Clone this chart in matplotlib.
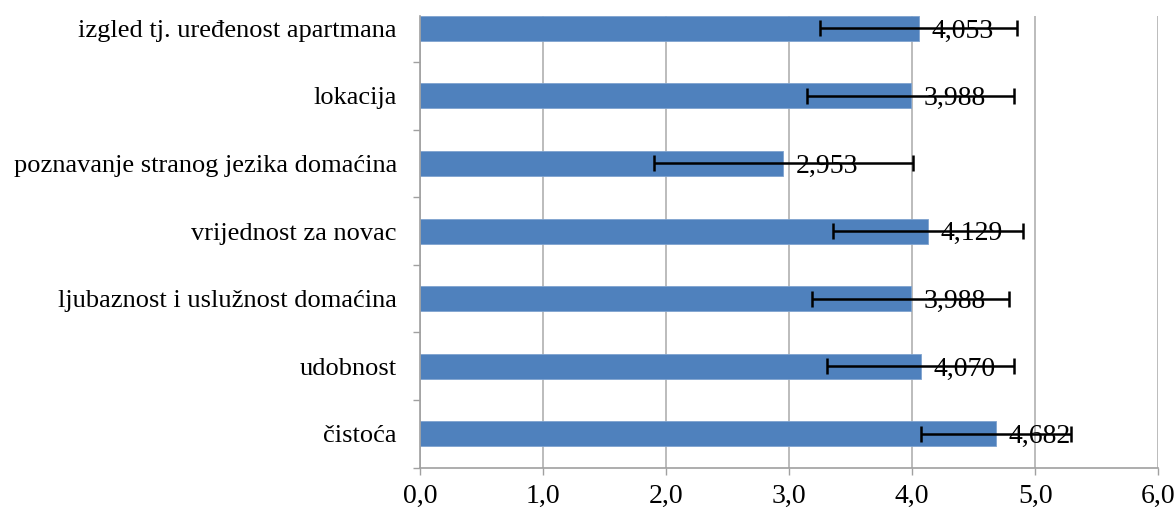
import matplotlib
matplotlib.use("Agg")
import matplotlib.pyplot as plt
from matplotlib.ticker import FuncFormatter, FixedLocator

categories = ["čistoća", "udobnost", "ljubaznost i uslužnost domaćina",
              "vrijednost za novac", "poznavanje stranog jezika domaćina",
              "lokacija", "izgled tj. uređenost apartmana"]
values = [4.682, 4.070, 3.988, 4.129, 2.953, 3.988, 4.053]
errors = [0.61, 0.76, 0.80, 0.77, 1.05, 0.84, 0.80]
value_labels = ["4,682", "4,070", "3,988", "4,129", "2,953", "3,988", "4,053"]
x_ticks = [0, 1, 2, 3, 4, 5, 6]

plt.rcParams['font.family'] = ['Liberation Serif', 'DejaVu Serif']

fig = plt.figure(figsize=(11.76, 5.11), dpi=100)
ax = fig.add_axes([0.357, 0.085, 0.628, 0.884])

ypos = list(range(len(categories)))
ax.barh(ypos, values, height=0.37, color="#4F81BD", edgecolor="#7FA3CF",
        linewidth=0.6, zorder=2)
ax.errorbar(values, ypos, xerr=errors, fmt="none", ecolor="black",
            elinewidth=1.8, capsize=5.5, capthick=1.8, zorder=3)
for v, y, lab in zip(values, ypos, value_labels):
    ax.annotate(lab, xy=(v, y), xytext=(9, -2), textcoords="offset points",
                ha="left", va="center", fontsize=20, color="black", zorder=4)

ax.set_xlim(0, 6)
ax.set_ylim(-0.5, 6.185)
ax.set_xticks(x_ticks)
ax.xaxis.set_major_formatter(FuncFormatter(lambda v, p: f"{v:.1f}".replace(".", ",")))
ax.set_yticks(ypos)
ax.set_yticklabels(categories)
ax.yaxis.set_minor_locator(FixedLocator([y + 0.5 for y in ypos[:-1]] + [-0.5]))
ax.tick_params(axis="y", which="major", length=0, pad=16.5, labelsize=19)
ax.tick_params(axis="y", which="minor", length=5, color="#A0A0A0", width=1)
ax.tick_params(axis="x", length=5, color="#A0A0A0", width=1, labelsize=20, pad=7)

ax.grid(axis="x", color="#B0B0B0", linewidth=1.2, zorder=0)
ax.set_axisbelow(True)
for s in ["top", "right"]:
    ax.spines[s].set_visible(False)
for s in ["left", "bottom"]:
    ax.spines[s].set_color("#A0A0A0")
    ax.spines[s].set_linewidth(1.2)

fig.savefig("out.png", dpi=100, facecolor="white")
